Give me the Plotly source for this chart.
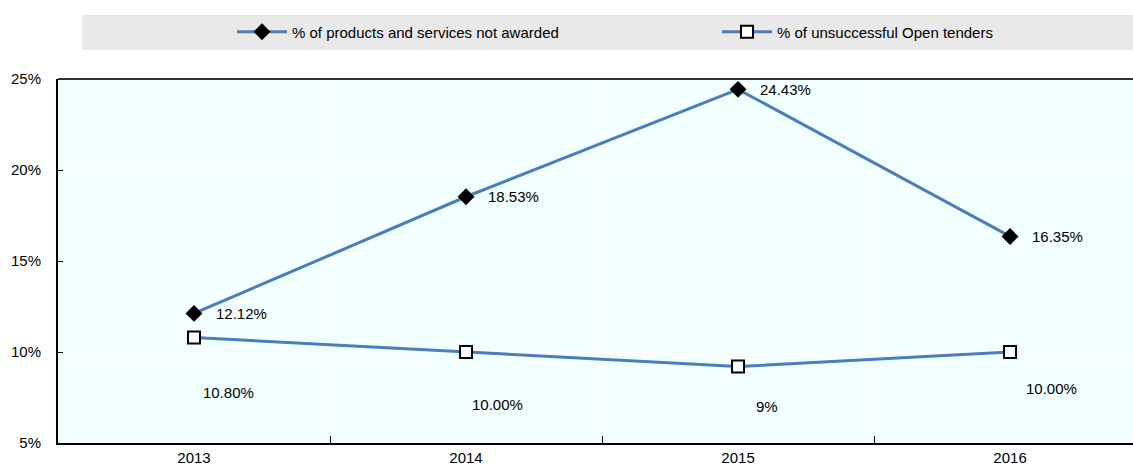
import plotly.graph_objects as go

years = ["2013", "2014", "2015", "2016"]
not_awarded = [12.12, 18.53, 24.43, 16.35]
unsuccessful_open = [10.80, 10.00, 9.20, 10.00]
not_awarded_labels = ["12.12%", "18.53%", "24.43%", "16.35%"]
unsuccessful_labels = ["10.80%", "10.00%", "9%", "10.00%"]
name1 = "% of products and services not awarded"
name2 = "% of unsuccessful Open tenders"

FONT = "Liberation Sans Narrow, Arial Narrow, Liberation Sans, Arial, sans-serif"
LINE = "#4A7EBB"
xi = list(range(len(years)))

fig = go.Figure()
fig.add_trace(go.Scatter(
    x=xi, y=not_awarded, name=name1, mode="lines+markers", legend="legend",
    line=dict(color=LINE, width=3),
    marker=dict(symbol="diamond", size=13, color="black", line=dict(width=0)),
))
fig.add_trace(go.Scatter(
    x=xi, y=unsuccessful_open, name=name2, mode="lines+markers", legend="legend2",
    line=dict(color=LINE, width=3),
    marker=dict(symbol="square", size=12, color="white", line=dict(color="black", width=2)),
))

# data labels
s2_shift = [(34, -55), (31, -52), (29, -40), (41, -36)]
for i in xi:
    fig.add_annotation(x=i, y=not_awarded[i], text=not_awarded_labels[i], showarrow=False,
                       xanchor="left", xshift=20, yshift=0,
                       font=dict(family=FONT, size=15, color="black"))
    fig.add_annotation(x=i, y=unsuccessful_open[i], text=unsuccessful_labels[i], showarrow=False,
                       xshift=s2_shift[i][0], yshift=s2_shift[i][1],
                       font=dict(family=FONT, size=15, color="black"))

# legend background box
fig.add_shape(type="rect", xref="paper", yref="paper", x0=0.0223, x1=1.0, y0=1.0797, y1=1.1758,
              fillcolor="#E9E9E9", line=dict(width=0), layer="below")
# top border
fig.add_shape(type="line", xref="paper", yref="paper", x0=0, x1=1, y0=1, y1=1,
              line=dict(color="#333333", width=2))

leg_common = dict(orientation="h", xanchor="left", y=1.129, yanchor="middle", itemwidth=50,
                  bgcolor="rgba(0,0,0,0)", font=dict(family=FONT, size=15, color="black"))

fig.update_layout(
    width=1133, height=468,
    margin=dict(l=58, r=0, t=79, b=25),
    paper_bgcolor="white", plot_bgcolor="#F2FFFF",
    font=dict(family=FONT, size=15, color="black"),
    showlegend=True,
    legend=dict(x=(232 - 58) / 1075, **leg_common),
    legend2=dict(x=(717 - 58) / 1075, **leg_common),
    xaxis=dict(
        range=[-0.5, 3.452], tickvals=xi, ticktext=years, ticks="", showgrid=False,
        showline=True, linecolor="black", linewidth=2, zeroline=False,
        tickfont=dict(family=FONT, size=15),
        minor=dict(tickvals=[0.5, 1.5, 2.5], ticks="inside", ticklen=7, tickcolor="black",
                   showgrid=True, gridcolor="white", gridwidth=1),
    ),
    yaxis=dict(
        range=[5, 25], dtick=5, ticksuffix="%", ticks="inside", ticklen=5, tickcolor="black",
        showgrid=True, gridcolor="white", gridwidth=1, zeroline=False,
        showline=True, linecolor="black", linewidth=2, ticklabelstandoff=12,
        tickfont=dict(family=FONT, size=15),
    ),
)

fig.write_html("out.html")
